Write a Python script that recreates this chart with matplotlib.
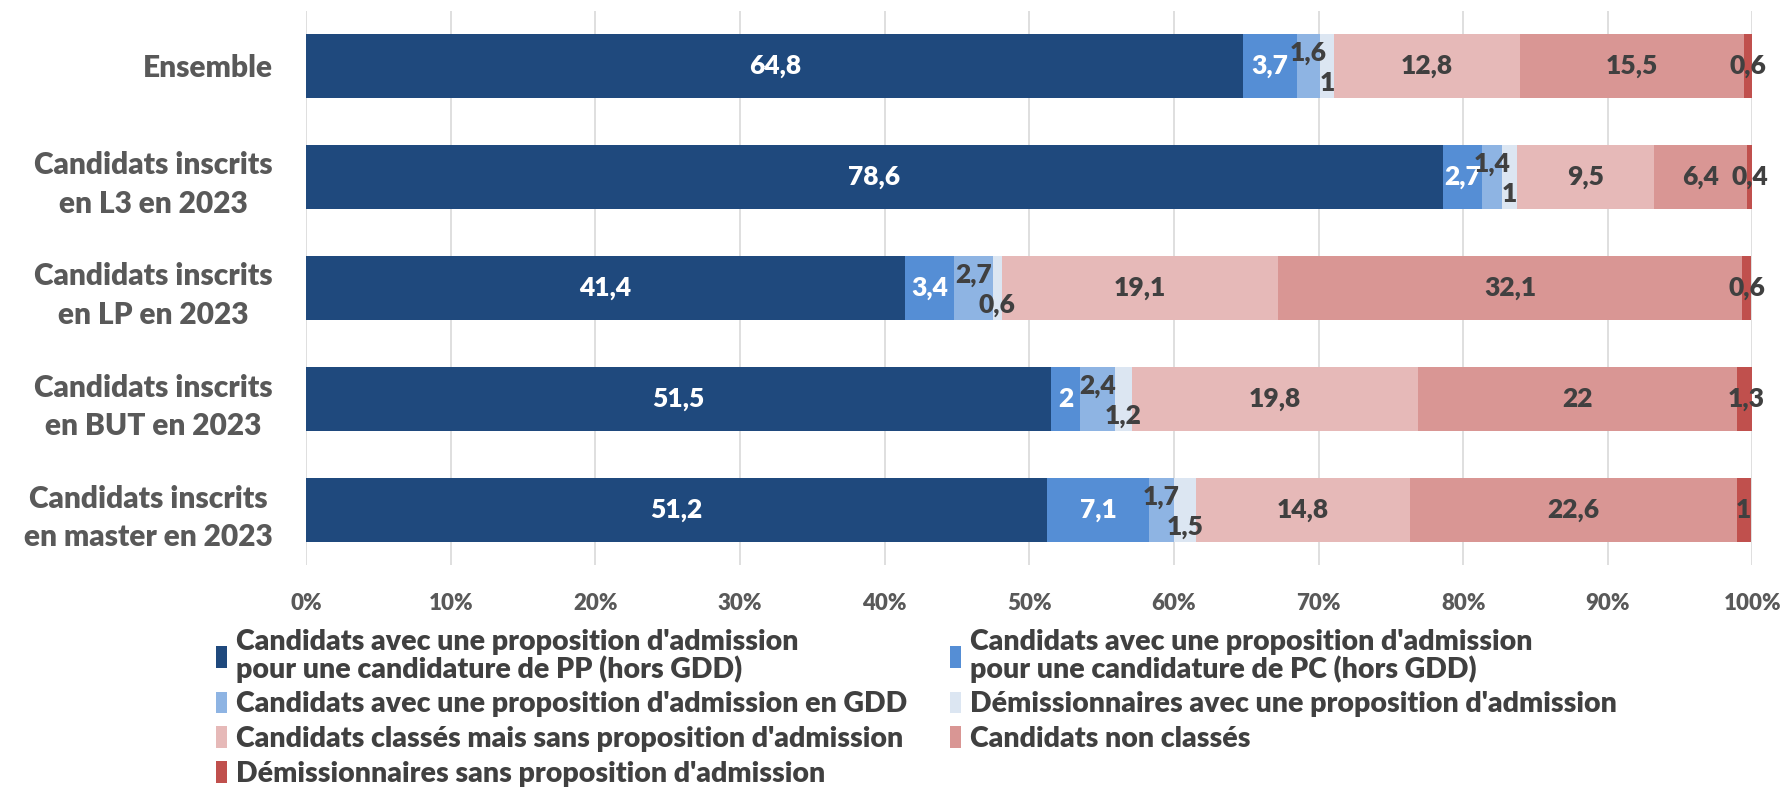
import numpy as np
import matplotlib
matplotlib.use("Agg")
import matplotlib.pyplot as plt

plt.rcParams['font.family'] = ['Lato', 'DejaVu Sans']

categories = ["Ensemble", "Candidats inscrits\nen L3 en 2023", "Candidats inscrits\nen LP en 2023",
              "Candidats inscrits\nen BUT en 2023", "Candidats inscrits\nen master en 2023"]

series_names = [
    "Candidats avec une proposition d'admission\npour une candidature de PP (hors GDD)",
    "Candidats avec une proposition d'admission\npour une candidature de PC (hors GDD)",
    "Candidats avec une proposition d'admission en GDD",
    "Démissionnaires avec une proposition d'admission",
    "Candidats classés mais sans proposition d'admission",
    "Candidats non classés",
    "Démissionnaires sans proposition d'admission",
]

pp = [64.8, 78.6, 41.4, 51.5, 51.2]
pc = [3.7, 2.7, 3.4, 2.0, 7.1]
gdd = [1.6, 1.4, 2.7, 2.4, 1.7]
dem_avec = [1.0, 1.0, 0.6, 1.2, 1.5]
classes = [12.8, 9.5, 19.1, 19.8, 14.8]
non_classes = [15.5, 6.4, 32.1, 22.0, 22.6]
dem_sans = [0.6, 0.4, 0.6, 1.3, 1.0]

colors = ["#1F497D", "#558ED5", "#8EB4E3", "#DCE6F2", "#E6B9B8", "#D99694", "#C0504D"]
label_colors = ["white", "white", "#404040", "#404040", "#404040", "#404040", "#404040"]
label_shift = [0, 0, 13, -17, 0, 0, 0]  # pixels, small segments are staggered

series = [pp, pc, gdd, dem_avec, classes, non_classes, dem_sans]
W = "heavy"

fig = plt.figure(figsize=(17.9, 7.91), dpi=100)
ax = fig.add_axes([0.171, 0.286, 0.808, 0.70])

y = np.arange(len(categories))
left = np.zeros(len(categories))
handles = []
for i, vals in enumerate(series):
    vals = np.array(vals)
    b = ax.barh(y, vals, left=left, height=0.575, color=colors[i], label=series_names[i], zorder=2)
    handles.append(b)
    for j, v in enumerate(vals):
        txt = ("%g" % v).replace(".", ",")
        ax.annotate(txt, (left[j] + v / 2, y[j]), xytext=(0, label_shift[i]),
                    textcoords="offset pixels", ha="center", va="center",
                    color=label_colors[i], fontsize=19, fontweight=W, zorder=3)
    left += vals

ax.set_xlim(0, 100)
ax.set_ylim(len(categories) - 0.51, -0.49)
ax.set_xticks(np.arange(0, 101, 10))
ax.set_xticklabels(["%d%%" % t for t in range(0, 101, 10)], fontsize=16, fontweight=W, color="#595959")
ax.set_yticks(y)
ax.set_yticklabels(categories, fontsize=21.5, fontweight=W, color="#595959", multialignment="center",
                   linespacing=1.45)
ax.tick_params(axis="both", length=0)
ax.tick_params(axis="x", pad=20)
ax.tick_params(axis="y", pad=24)
ax.grid(axis="x", color="#D9D9D9", linewidth=1.2, zorder=0)
for s in ax.spines.values():
    s.set_visible(False)

order = [0, 2, 4, 6, 1, 3, 5]
leg = fig.legend([handles[k] for k in order], [series_names[k] for k in order],
                 ncol=2, loc="upper left", bbox_to_anchor=(0.111, 0.226), frameon=False,
                 fontsize=20.5, handlelength=0.4, handleheight=0.8, handletextpad=0.3,
                 columnspacing=1.5, labelspacing=0.3, borderpad=0.1)
for t in leg.get_texts():
    t.set_color("#404040")
    t.set_fontweight(W)
    t.set_linespacing(1.0)

fig.savefig("out.png", dpi=100)
